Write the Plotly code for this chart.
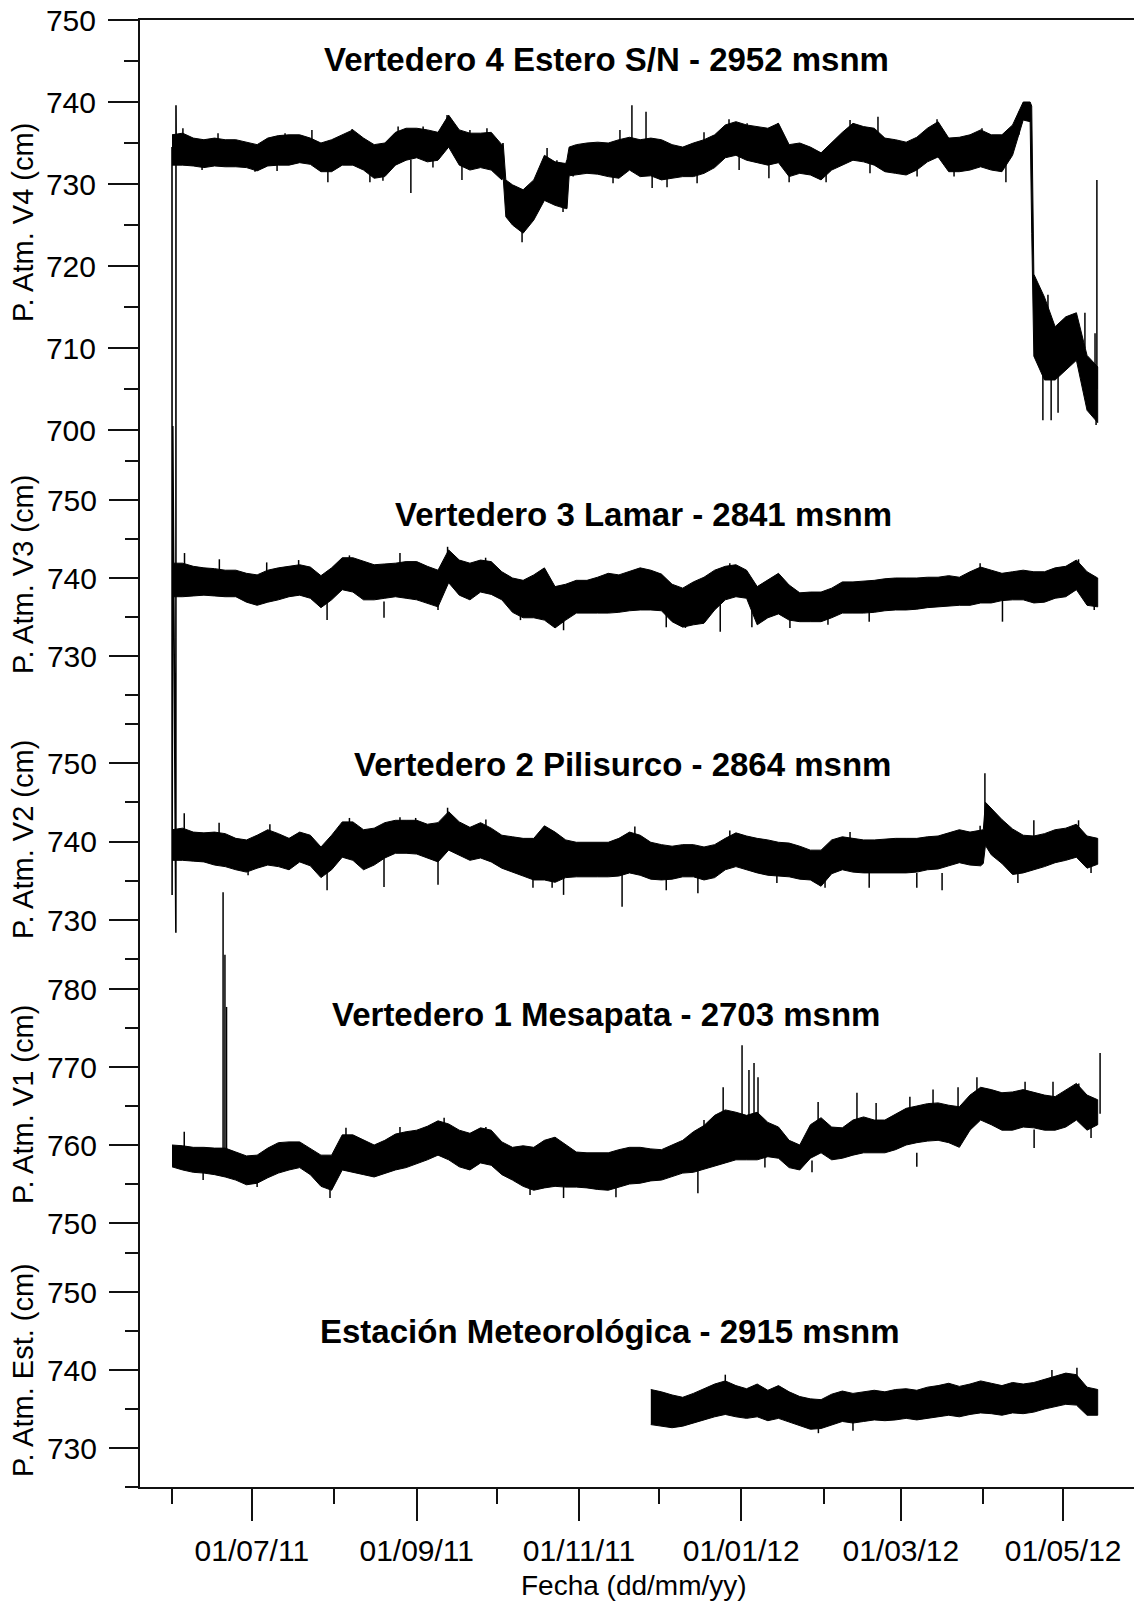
import pandas as pd
import plotly.graph_objects as go

# ---------------------------------------------------------------
# Presión atmosférica registrada en los vertederos y la estación
# Envolventes (máximo / mínimo) cada 4 días + picos aislados
# ---------------------------------------------------------------
inicio = pd.Timestamp("2011-06-01")
fechas = pd.date_range(inicio, periods=88, freq="4D")

v4_max = [736.0, 736.2, 735.6, 735.4, 735.6, 735.4, 735.4, 735.1, 734.8, 735.6,
          735.9, 736.0, 736.0, 735.6, 735.0, 735.4, 736.0, 736.6, 735.6, 734.8,
          735.0, 736.3, 736.8, 736.8, 736.6, 736.3, 738.4, 736.6, 736.2, 736.2,
          736.3, 734.8, 729.9, 729.3, 730.5, 733.5, 732.7, 732.5, 734.8, 735.0,
          735.1, 735.0, 735.4, 735.7, 735.4, 735.6, 735.4, 734.8, 734.5, 735.0,
          735.4, 736.0, 737.2, 737.6, 737.2, 737.0, 736.8, 737.4, 734.8, 735.0,
          734.5, 733.8, 735.1, 736.3, 737.4, 737.0, 736.8, 735.6, 735.4, 735.1,
          735.7, 736.8, 737.6, 735.6, 735.7, 736.0, 736.6, 736.0, 736.0, 737.2,
          740.0, 719.0, 716.2, 712.6, 713.8, 714.3, 709.1, 707.7]
v4_min = [732.3, 732.3, 732.2, 732.0, 732.2, 732.1, 732.1, 732.0, 731.6, 732.2,
          732.3, 732.3, 732.6, 732.4, 731.5, 731.5, 732.3, 732.3, 731.7, 730.7,
          730.9, 732.3, 732.9, 733.2, 732.7, 732.9, 734.5, 732.3, 731.7, 732.0,
          731.7, 730.5, 725.0, 724.0, 725.6, 728.0, 727.4, 727.0, 731.1, 731.3,
          731.2, 730.9, 730.7, 731.7, 730.9, 731.0, 730.5, 730.7, 730.9, 730.9,
          731.3, 732.0, 733.2, 733.5, 732.9, 732.6, 732.3, 732.6, 730.9, 731.3,
          731.1, 730.5, 731.7, 732.3, 732.9, 732.7, 732.3, 731.5, 731.3, 731.1,
          731.7, 732.7, 733.3, 731.5, 731.5, 731.7, 732.1, 731.7, 731.5, 733.5,
          737.8, 709.0, 706.1, 706.1, 707.3, 708.5, 702.4, 700.9]
# lecturas adicionales en los cambios bruscos de V4 (día desde el 01/06/11)
v4_extra_dia = [124.5, 125.5, 148.5, 149.3, 322.6, 323.2]
v4_extra_max = [735.0, 730.5, 733.0, 734.5, 740.0, 739.5]
v4_extra_min = [730.8, 726.0, 727.0, 731.0, 737.6, 724.0]

# primeras lecturas de V4 (antes de instalar el sensor)
v4_ini_t = ["2011-06-01 00:00", "2011-06-01 01:00", "2011-06-01 02:00", "2011-06-01 03:00",
            "2011-06-01 04:00", "2011-06-01 05:00", "2011-06-01 06:00", "2011-06-01 07:00",
            "2011-06-02 11:00", "2011-06-02 12:00", "2011-06-02 14:00"]
v4_ini_v = [734.5, 643.3, 712.8, 700.0, 712.5, 700.3, 711.8, 700.5, 638.7, 739.6, 734.0]

# picos: día desde el 01/06/11, valor de la banda y valor extremo
v4_pico_dia = [4.1, 11.3, 17.3, 31.2, 39.5, 42.5, 52.6, 58.6, 67.7, 74.4, 79.3, 85.0,
               89.8, 94.4, 98.1, 103.4, 109.0, 112.0, 118.4, 124.4, 131.6, 141.0, 144.7,
               147.0, 150.8, 165.8, 168.4, 172.9, 178.2, 180.5, 186.1, 197.4, 200.0,
               209.4, 213.2, 216.2, 224.4, 227.8, 232.0, 245.9, 254.9, 262.4, 265.4,
               280.1, 287.6, 294.0, 304.5, 313.5, 318.4, 327.4, 329.3, 330.5, 333.1,
               343.2, 347.0, 347.4, 347.7]
v4_pico_base = [734, 733, 734, 733, 733, 734, 734, 732, 734, 732, 732, 735,
                733, 735, 733, 736, 733, 735, 735, 732, 726, 731, 729,
                729, 732, 732, 734, 734, 734, 732, 732, 732, 734,
                735, 734, 735, 733, 735, 733, 733, 735, 734, 735,
                733, 735, 733, 734, 733, 736, 708, 712, 708, 708,
                710, 704, 704, 705]
v4_pico_tope = [736.8, 731.7, 736.2, 731.5, 731.6, 736.2, 736.6, 730.2, 736.7, 730.2, 730.4, 737.0,
                728.9, 737.0, 732.0, 738.4, 730.5, 736.6, 736.8, 730.9, 722.9, 734.4, 732.9,
                726.6, 730.9, 730.1, 736.6, 739.6, 738.8, 729.5, 729.6, 730.1, 736.3,
                737.9, 731.7, 737.4, 730.7, 737.4, 730.2, 730.2, 737.8, 731.3, 738.2,
                730.9, 737.9, 730.9, 736.8, 730.2, 738.8, 701.2, 716.5, 701.2, 702.1,
                714.3, 711.8, 700.6, 730.5]

v3_max = [741.9, 741.9, 741.5, 741.3, 741.2, 741.0, 741.0, 740.6, 740.4, 741.0,
          741.3, 741.5, 741.7, 741.4, 740.3, 741.3, 742.6, 742.6, 742.1, 741.7,
          741.8, 741.9, 742.1, 742.1, 741.5, 741.0, 743.6, 742.3, 741.9, 742.3,
          742.1, 740.8, 740.0, 739.7, 740.4, 741.3, 738.9, 739.2, 739.7, 739.7,
          740.1, 740.6, 740.4, 740.8, 741.3, 741.0, 740.5, 739.2, 738.7, 739.5,
          740.1, 741.0, 741.5, 741.7, 741.0, 738.9, 739.7, 740.6, 739.1, 738.1,
          738.2, 738.2, 738.7, 739.5, 739.5, 739.6, 739.7, 739.9, 740.0, 740.0,
          740.0, 740.1, 740.1, 740.3, 740.1, 740.8, 741.4, 741.0, 740.6, 740.8,
          741.0, 740.8, 740.8, 741.3, 741.5, 742.3, 740.8, 740.0]
v3_min = [737.6, 737.6, 737.7, 737.8, 737.7, 737.6, 737.6, 736.9, 736.5, 736.9,
          737.2, 737.6, 737.8, 737.4, 736.2, 737.2, 738.5, 738.2, 737.2, 737.2,
          737.4, 737.6, 737.4, 737.2, 736.7, 736.3, 739.4, 737.8, 737.2, 738.2,
          737.9, 737.2, 735.6, 734.9, 734.9, 734.6, 733.6, 734.6, 735.5, 735.5,
          735.5, 735.5, 735.6, 735.8, 735.9, 735.9, 735.8, 734.4, 733.7, 734.0,
          734.2, 735.9, 737.2, 737.6, 737.4, 734.0, 734.9, 735.4, 734.6, 734.4,
          734.4, 734.4, 734.9, 735.5, 735.5, 735.5, 735.6, 735.8, 735.9, 735.9,
          736.0, 736.2, 736.3, 736.4, 736.5, 736.5, 736.8, 736.8, 737.1, 737.2,
          737.2, 736.8, 736.9, 737.4, 737.6, 738.5, 736.5, 736.3]
v3_pico_dia = [4.7, 17.8, 35.6, 47.6, 58.3, 66.7, 79.7, 85.7, 100.0, 103.6, 117.9, 131.0,
               144.1, 147.2, 185.8, 193.0, 206.1, 209.7, 218.0, 232.3, 246.6, 262.1,
               303.8, 312.2, 340.8, 346.7]
v3_pico_base = [740, 740, 739, 740, 737, 740, 737, 740, 738, 741, 740, 737,
                736, 736, 736, 736, 737, 739, 736, 736, 736, 737,
                738, 738, 740, 738]
v3_pico_tope = [743.2, 742.4, 742.0, 742.3, 734.6, 742.9, 734.9, 743.2, 735.9, 744.0, 742.6, 734.6,
                734.0, 733.3, 733.7, 733.6, 733.1, 741.9, 733.7, 733.6, 734.0, 734.4,
                741.9, 734.4, 742.4, 735.9]

v2_max = [741.5, 741.7, 741.2, 741.1, 741.2, 741.0, 740.4, 740.2, 740.8, 741.5,
          741.0, 740.4, 741.2, 740.8, 739.3, 740.8, 742.5, 742.5, 741.5, 741.7,
          742.4, 742.7, 742.7, 742.7, 742.2, 742.4, 743.8, 742.5, 741.8, 742.4,
          741.7, 740.8, 740.6, 740.4, 740.4, 742.0, 741.2, 740.2, 739.9, 739.9,
          739.9, 739.9, 740.4, 741.2, 740.8, 739.9, 739.6, 739.4, 739.6, 739.6,
          739.3, 739.6, 740.4, 741.1, 740.7, 740.4, 740.2, 739.9, 739.8, 739.4,
          738.9, 738.9, 740.2, 740.6, 740.4, 740.2, 740.2, 740.3, 740.4, 740.4,
          740.4, 740.6, 740.7, 741.1, 741.5, 741.2, 741.5, 744.2, 742.8, 741.6,
          740.8, 740.7, 741.0, 741.5, 741.7, 742.2, 740.7, 740.4]
v2_min = [737.6, 737.6, 737.5, 737.4, 737.0, 736.8, 736.4, 736.1, 736.6, 737.0,
          736.8, 736.4, 737.4, 736.9, 735.4, 736.4, 738.0, 737.6, 736.4, 737.0,
          737.9, 738.5, 738.5, 738.4, 737.9, 737.4, 738.9, 738.2, 737.6, 737.9,
          737.4, 736.6, 736.1, 735.6, 735.1, 735.1, 734.8, 735.4, 735.5, 735.5,
          735.5, 735.5, 735.6, 736.0, 735.7, 735.2, 735.1, 735.2, 735.5, 735.5,
          735.1, 735.4, 736.4, 736.8, 736.4, 736.0, 735.7, 735.6, 735.5, 735.2,
          735.1, 734.3, 735.9, 736.4, 736.1, 736.0, 736.0, 736.0, 736.0, 736.0,
          736.1, 736.4, 736.5, 736.9, 737.3, 737.0, 736.9, 738.3, 737.2, 735.8,
          736.0, 736.4, 736.8, 737.3, 737.6, 738.0, 736.6, 737.1]
# salto del 01/04/12
v2_extra_dia = [305.0, 305.8]
v2_extra_max = [741.5, 745.0]
v2_extra_min = [737.2, 739.5]
v2_pico_dia = [4.6, 17.7, 28.6, 36.8, 58.3, 66.7, 79.7, 85.7, 91.6, 100.0, 103.6, 118.0,
               135.7, 142.9, 147.2, 169.2, 174.0, 185.8, 197.7, 209.7, 227.4, 245.5,
               254.9, 262.1, 280.0, 289.5, 303.8, 305.6, 318.0, 324.0, 340.8, 345.5]
v2_pico_base = [739, 739, 738, 739, 737, 740, 738, 740, 740, 739, 741, 740,
                737, 737, 737, 737, 739, 736, 736, 739, 737, 736,
                738, 736, 736, 736, 739, 742, 737, 739, 740, 738]
v2_pico_tope = [743.6, 742.4, 735.7, 742.2, 733.8, 743.0, 734.2, 743.1, 743.0, 734.5, 744.3, 742.8,
                734.1, 734.1, 733.2, 731.7, 741.9, 733.8, 733.4, 741.4, 734.7, 734.1,
                741.2, 734.1, 734.1, 733.8, 742.0, 748.7, 734.7, 742.7, 742.7, 736.0]

v1_max = [760.0, 759.9, 759.7, 759.7, 759.6, 759.6, 759.1, 758.6, 758.7, 759.6,
          760.3, 760.4, 760.4, 759.6, 758.7, 758.7, 761.3, 761.3, 760.6, 760.0,
          760.6, 761.4, 761.7, 761.9, 762.4, 763.1, 762.7, 761.9, 761.5, 762.2,
          761.9, 760.4, 759.7, 759.9, 759.7, 760.6, 761.0, 760.0, 759.1, 759.0,
          759.0, 759.0, 759.4, 759.7, 759.7, 759.5, 759.4, 760.0, 760.6, 761.7,
          762.5, 763.8, 764.5, 764.2, 763.8, 764.2, 762.9, 762.3, 760.6, 760.0,
          762.6, 763.5, 762.3, 762.2, 763.2, 763.6, 763.2, 763.2, 764.0, 764.7,
          765.0, 765.3, 765.4, 765.1, 764.9, 766.4, 767.4, 767.1, 766.7, 766.8,
          767.1, 766.7, 766.4, 766.2, 767.1, 767.9, 766.4, 765.8]
v1_min = [757.2, 756.8, 756.5, 756.4, 756.2, 755.9, 755.5, 754.9, 755.1, 755.8,
          756.4, 756.8, 757.1, 756.2, 754.7, 754.2, 756.8, 756.5, 756.2, 755.9,
          756.3, 756.8, 757.1, 757.6, 758.1, 758.7, 758.1, 757.2, 756.8, 757.7,
          757.4, 756.2, 755.5, 754.7, 754.2, 754.5, 754.7, 754.6, 754.6, 754.5,
          754.3, 754.2, 754.6, 755.0, 755.1, 755.4, 755.5, 755.9, 756.4, 756.5,
          756.8, 757.3, 757.7, 758.1, 758.1, 758.1, 758.5, 758.3, 757.1, 756.8,
          758.3, 759.0, 758.1, 758.3, 758.7, 759.0, 759.0, 759.0, 759.4, 760.0,
          760.3, 760.5, 760.6, 760.3, 759.7, 761.9, 763.2, 762.6, 761.9, 761.9,
          762.3, 762.2, 761.9, 761.9, 762.3, 763.2, 761.9, 762.6]
v1_pico_dia = [4.6, 11.7, 19.2, 19.9, 20.5, 32.0, 59.4, 65.4, 85.7, 102.3, 118.0, 134.6,
               147.2, 166.9, 197.7, 200.0, 207.2, 214.3, 216.9, 218.8, 220.3, 222.9,
               240.6, 242.9, 257.5, 264.7, 277.4, 280.0, 286.1, 295.5, 302.6, 320.7,
               324.1, 331.2, 340.9, 345.5, 348.9]
v1_pico_base = [758, 757, 758, 758, 758, 756, 756, 760, 760, 761, 760, 756,
                756, 756, 757, 760, 761, 761, 761, 761, 761, 759,
                758, 762, 762, 762, 763, 759, 763, 763, 764, 765,
                762, 765, 765, 763, 764]
v1_pico_tope = [761.7, 755.5, 792.4, 784.4, 777.7, 754.6, 753.2, 762.2, 762.3, 763.5, 762.3, 753.6,
                753.2, 753.3, 753.8, 763.2, 767.4, 772.8, 769.6, 770.5, 768.7, 757.1,
                756.5, 765.5, 766.7, 765.4, 766.2, 757.2, 767.1, 767.4, 768.7, 768.1,
                759.6, 768.1, 767.9, 760.9, 771.8]

# la estación meteorológica empieza a registrar a fines de noviembre
est_inicio = 45
est_max = [737.5, 737.2, 736.8, 736.5, 737.0, 737.6, 738.2, 738.6, 738.0, 737.6,
           738.2, 737.4, 738.0, 737.2, 736.6, 736.3, 736.2, 736.9, 737.3, 737.0,
           737.2, 737.4, 737.2, 737.5, 737.6, 737.4, 737.8, 738.0, 738.3, 737.9,
           738.2, 738.6, 738.3, 738.0, 738.4, 738.2, 738.4, 738.8, 739.2, 739.6,
           739.4, 737.8, 737.5]
est_min = [733.0, 732.8, 732.6, 732.8, 733.2, 733.6, 734.0, 734.3, 734.0, 733.8,
           734.0, 733.5, 733.8, 733.4, 732.9, 732.4, 732.5, 733.0, 733.4, 733.2,
           733.4, 733.6, 733.5, 733.6, 733.8, 733.6, 733.8, 734.0, 734.2, 734.0,
           734.3, 734.5, 734.4, 734.2, 734.5, 734.4, 734.6, 735.0, 735.3, 735.6,
           735.5, 734.2, 734.2]
est_pico_dia = [208.0, 243.0, 256.0, 330.8, 340.2]
est_pico_base = [736, 734, 734, 737, 737]
est_pico_tope = [739.4, 731.9, 732.2, 740.0, 740.3]

titulos = ["Vertedero 4 Estero S/N - 2952 msnm", "Vertedero 3 Lamar - 2841 msnm",
           "Vertedero 2 Pilisurco - 2864 msnm", "Vertedero 1 Mesapata - 2703 msnm",
           "Estación Meteorológica - 2915 msnm"]
ejes_y = ["P. Atm. V4 (cm)", "P. Atm. V3 (cm)", "P. Atm. V2 (cm)",
          "P. Atm. V1 (cm)", "P. Atm. Est. (cm)"]

# ---------------------------------------------------------------
# Geometría de la página (px)
# ---------------------------------------------------------------
W, H = 1134, 1603
L, R, T, B = 140, 1134, 20, 1487
FONT = "Liberation Sans, Arial, sans-serif"


def px(x):
    return (x - L) / (R - L)


def py(y):
    return (B - y) / (B - T)


def rango(v_ref, y_ref, px_por_unidad):
    """Rango del eje y para que el valor v_ref caiga en la fila y_ref."""
    return [v_ref - (B - y_ref) / px_por_unidad, v_ref + (y_ref - T) / px_por_unidad]


def a_fecha(dias):
    return [inicio + pd.to_timedelta(d, unit="D") for d in dias]


def envolvente(t, vmax, vmin, extra_dia=(), extra_max=(), extra_min=()):
    """Une las lecturas regulares con las adicionales, ordenadas en el tiempo."""
    df = pd.DataFrame({"t": list(t) + a_fecha(extra_dia),
                       "max": list(vmax) + list(extra_max),
                       "min": list(vmin) + list(extra_min)}).sort_values("t")
    return list(df["t"]), list(df["max"]), list(df["min"])


paneles = [
    dict(eje="y", rango=rango(750, 20, 8.2), mayores=[700, 710, 720, 730, 740, 750],
         menores=[705, 715, 725, 735, 745]),
    dict(eje="y2", rango=rango(750, 500, 7.8), mayores=[730, 740, 750],
         menores=[725, 735, 745, 755]),
    dict(eje="y3", rango=rango(750, 763, 7.85), mayores=[730, 740, 750],
         menores=[725, 735, 745, 755]),
    dict(eje="y4", rango=rango(780, 989, 7.8), mayores=[750, 760, 770, 780],
         menores=[755, 765, 775]),
    dict(eje="y5", rango=rango(750, 1292, 7.8), mayores=[730, 740, 750],
         menores=[725, 735, 745, 755]),
]

series = [
    (envolvente(fechas, v4_max, v4_min, v4_extra_dia, v4_extra_max, v4_extra_min),
     v4_pico_dia, v4_pico_base, v4_pico_tope),
    (envolvente(fechas, v3_max, v3_min), v3_pico_dia, v3_pico_base, v3_pico_tope),
    (envolvente(fechas, v2_max, v2_min, v2_extra_dia, v2_extra_max, v2_extra_min),
     v2_pico_dia, v2_pico_base, v2_pico_tope),
    (envolvente(fechas, v1_max, v1_min), v1_pico_dia, v1_pico_base, v1_pico_tope),
    (envolvente(fechas[est_inicio:], est_max, est_min),
     est_pico_dia, est_pico_base, est_pico_tope),
]

fig = go.Figure()

for panel, ((t, vmax, vmin), pdia, pb, pv) in zip(paneles, series):
    # banda de oscilación diaria
    fig.add_trace(go.Scatter(
        x=t + t[::-1], y=vmax + vmin[::-1], yaxis=panel["eje"],
        mode="lines", fill="toself", fillcolor="black",
        line=dict(color="black", width=1), hoverinfo="skip", showlegend=False))
    # picos aislados
    xs, ys = [], []
    for f, b, v in zip(a_fecha(pdia), pb, pv):
        xs += [f, f, None]
        ys += [b, v, None]
    fig.add_trace(go.Scatter(
        x=xs, y=ys, yaxis=panel["eje"], mode="lines",
        line=dict(color="black", width=1.5), hoverinfo="skip", showlegend=False))

# lecturas iniciales de V4
fig.add_trace(go.Scatter(x=v4_ini_t, y=v4_ini_v, yaxis="y", mode="lines",
                         line=dict(color="black", width=1.6), showlegend=False))

eje_base = dict(showgrid=False, zeroline=False, ticks="outside", ticklen=30,
                tickwidth=1.5, tickcolor="#111", anchor="x", side="left",
                tickfont=dict(family=FONT, size=30, color="black"),
                ticklabelstandoff=6, automargin=False)

layout_ejes = {}
for i, panel in enumerate(paneles):
    nombre = "yaxis" if i == 0 else "yaxis%d" % (i + 1)
    cfg = dict(eje_base, range=panel["rango"], tickmode="array",
               tickvals=panel["mayores"], ticktext=[str(v) for v in panel["mayores"]],
               minor=dict(tickmode="array", tickvals=panel["menores"], ticks="outside",
                          ticklen=14, tickwidth=1.5, tickcolor="#111"))
    if i == 0:
        cfg.update(showline=True, linecolor="#111", linewidth=2)
    else:
        cfg.update(showline=False, overlaying="y")
    layout_ejes[nombre] = cfg

anotaciones = []
pos_titulos = [(606, 59), (643, 514), (622, 764), (606, 1014), (610, 1331)]
for texto, (x, y) in zip(titulos, pos_titulos):
    anotaciones.append(dict(text=texto, x=px(x), y=py(y), xref="paper", yref="paper",
                            xanchor="center", yanchor="middle", showarrow=False,
                            font=dict(family=FONT, size=33, color="black", weight="bold")))
pos_ejes = [223, 575, 840, 1105, 1370]
for texto, y in zip(ejes_y, pos_ejes):
    anotaciones.append(dict(text=texto, x=px(23), y=py(y), xref="paper", yref="paper",
                            xanchor="center", yanchor="middle", textangle=-90,
                            showarrow=False, font=dict(family=FONT, size=29, color="black")))
anotaciones.append(dict(text="Fecha (dd/mm/yy)", x=px(634), y=py(1585), xref="paper",
                        yref="paper", xanchor="center", yanchor="middle", showarrow=False,
                        font=dict(family=FONT, size=28, color="black")))

fig.update_layout(
    template="none",
    width=W, height=H,
    margin=dict(l=L, r=W - R, t=T, b=H - B, pad=0),
    paper_bgcolor="white", plot_bgcolor="white",
    showlegend=False,
    xaxis=dict(type="date", range=["2011-05-19 23:15", "2012-05-27 15:36"],
               showline=True, linecolor="#111", linewidth=2, mirror=True,
               showgrid=False, zeroline=False, automargin=False,
               ticks="outside", ticklen=32, tickwidth=1.5, tickcolor="#111",
               tick0="2011-07-01", dtick="M2", tickformat="%d/%m/%y",
               tickfont=dict(family=FONT, size=30, color="black"), ticklabelstandoff=4,
               minor=dict(ticks="outside", ticklen=15, tickwidth=1.5, tickcolor="#111",
                          tick0="2011-06-01", dtick="M1")),
    annotations=anotaciones,
    **layout_ejes,
)

fig.write_html("out.html")
